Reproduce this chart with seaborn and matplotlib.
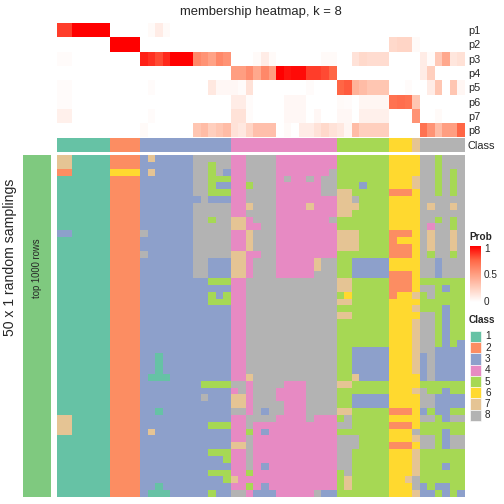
"""
Membership heatmap, k = 8: per-column class probabilities (top annotation)
and the class assigned to each column in 50 random samplings (body).
"""

import numpy as np
import pandas as pd
import matplotlib
matplotlib.use("Agg")
import matplotlib.pyplot as plt
import seaborn as sns
from matplotlib.colors import ListedColormap, LinearSegmentedColormap
from matplotlib.patches import Rectangle

sns.set_theme(style="white")
plt.rcParams["font.family"] = ["Liberation Sans", "DejaVu Sans"]

# ── Data ────────────────────────────────────────────────────────────────────

class_labels = ["1", "2", "3", "4", "5", "6", "7", "8"]
class_colors = ["#66C2A5", "#FC8D62", "#8DA0CB", "#E78AC3",
                "#A6D854", "#FFD92F", "#E5C494", "#B3B3B3"]
prob_rows = ["p1", "p2", "p3", "p4", "p5", "p6", "p7", "p8"]

column_class = [1] * 7 + [2] * 4 + [3] * 12 + [4] * 14 + [5] * 7 + [6] * 3 + [7] + [8] * 6

p1 = [0.85, 0.85, 1, 1, 1, 1, 1, 0, 0, 0, 0, 0, 0.03, 0.1, 0.03, 0, 0, 0,
      0, 0, 0, 0, 0, 0, 0, 0, 0, 0, 0, 0, 0, 0, 0, 0, 0, 0, 0,
      0, 0, 0, 0, 0, 0, 0, 0, 0, 0, 0, 0, 0, 0, 0, 0, 0]
p2 = [0, 0, 0, 0, 0, 0, 0, 1, 1, 1, 1, 0, 0, 0, 0, 0, 0, 0,
      0, 0, 0, 0, 0, 0, 0, 0, 0, 0, 0, 0, 0, 0, 0, 0, 0, 0, 0,
      0, 0, 0, 0, 0, 0, 0, 0.2, 0.22, 0.22, 0.03, 0, 0, 0, 0, 0, 0]
p3 = [0.02, 0.02, 0, 0, 0, 0, 0, 0, 0, 0, 0, 0.92, 0.88, 0.82, 0.9, 1, 1, 1,
      0.6, 0.55, 0.48, 0.6, 0.55, 0, 0, 0, 0.03, 0.1, 0.03, 0, 0, 0, 0, 0, 0, 0.03, 0.03,
      0, 0, 0.15, 0.2, 0.18, 0.18, 0.18, 0, 0, 0, 0, 0.1, 0.02, 0.28, 0.45, 0.13, 0.16]
p4 = [0, 0, 0, 0, 0, 0, 0, 0, 0, 0, 0, 0, 0, 0, 0, 0, 0, 0,
      0, 0, 0, 0, 0, 0.5, 0.5, 0.58, 0.45, 0.6, 0.5, 1, 0.95, 0.97, 0.97, 0.85, 0.85, 0.82, 0.75,
      0, 0, 0, 0, 0, 0, 0, 0, 0, 0, 0, 0.1, 0.25, 0, 0, 0, 0]
p5 = [0.02, 0.02, 0, 0, 0, 0, 0, 0, 0, 0, 0, 0, 0.02, 0, 0, 0, 0, 0,
      0, 0, 0.12, 0.04, 0.04, 0.04, 0.02, 0.15, 0, 0, 0, 0, 0, 0, 0, 0.02, 0, 0, 0,
      0.75, 0.78, 0.4, 0.35, 0.3, 0.3, 0.3, 0, 0, 0.02, 0, 0, 0.1, 0.3, 0, 0.3, 0.05]
p6 = [0.02, 0.02, 0, 0, 0, 0, 0, 0, 0, 0, 0, 0, 0, 0, 0, 0, 0, 0,
      0, 0, 0, 0, 0, 0.1, 0.1, 0.02, 0, 0, 0, 0, 0.04, 0.04, 0.04, 0, 0, 0, 0,
      0.03, 0.02, 0, 0.05, 0.05, 0.05, 0.05, 0.7, 0.72, 0.7, 0.3, 0, 0, 0, 0, 0, 0]
p7 = [0.08, 0.08, 0, 0, 0, 0, 0, 0, 0, 0, 0, 0, 0.02, 0, 0, 0, 0, 0,
      0, 0, 0, 0, 0, 0.15, 0.15, 0.02, 0, 0, 0, 0, 0.04, 0.04, 0.04, 0, 0.04, 0, 0,
      0.04, 0.04, 0, 0.08, 0.08, 0.08, 0.08, 0, 0, 0, 0.55, 0, 0, 0.03, 0, 0, 0]
p8 = [0, 0, 0, 0, 0, 0, 0, 0, 0, 0, 0, 0.03, 0, 0, 0, 0, 0, 0,
      0.3, 0.35, 0.25, 0.3, 0.35, 0.15, 0.12, 0.22, 0.33, 0.33, 0.33, 0, 0.03, 0, 0.1, 0.1, 0.15, 0.2, 0.15,
      0.12, 0.05, 0.35, 0.25, 0.25, 0.25, 0.25, 0, 0, 0, 0, 0.7, 0.55, 0.35, 0.5, 0.5, 0.75]

# one string per sampling, one digit (class) per column; spaces only group columns
samplings = [
    "77 11111 2222 3733333 88888 44 8888 44444444 5555555 6666 885888",
    "77 11111 2222 3333333 88588 44 8888 44444444 5555555 6666 885888",
    "22 11111 6666 3733333 88583 44 8888 44444448 5555555 6666 885858",
    "11 11111 2222 3333333 88555 44 8888 48448488 5555555 6667 885858",
    "11 11111 2222 3333333 88533 44 5888 44444488 5553555 6667 885858",
    "11 11111 2222 3333333 88555 44 8888 44444488 7755555 2226 885858",
    "11 11111 2222 3333333 38333 44 8888 44444444 7785555 6666 888888",
    "11 11111 2222 3333333 88888 44 7888 44447444 7775555 6666 878878",
    "11 11111 2222 3333333 88888 44 8888 44444444 7755555 6666 888888",
    "11 11111 2222 3333333 88588 77 4888 44444448 5555555 6666 885858",
    "11 11111 2222 3333333 88888 77 4488 44444444 5555555 6666 848858",
    "33 11111 2222 8333333 88888 44 7888 44444444 7775555 2226 878878",
    "11 11111 2222 3333333 88888 44 7888 44444444 7775555 2666 878878",
    "11 11111 2222 3333333 88888 44 7888 44444444 7775555 2226 878878",
    "11 11111 2222 8333333 88888 77 4488 44444444 5555555 2226 858858",
    "11 11111 2222 3333333 88333 77 4888 44444788 5533333 6666 883888",
    "11 11111 2222 3333333 88333 77 4888 44444788 5533333 6666 883888",
    "11 11111 2222 3333333 88333 77 4888 44444888 5533333 2226 883888",
    "11 11111 2222 3333333 33555 44 8888 88888888 7755555 2226 555555",
    "11 11111 2222 3333333 33333 44 8888 88888888 7755555 2226 885355",
    "11 11111 2222 3333333 33535 44 8888 88888888 5655555 2667 585555",
    "11 11111 2222 3333333 33555 44 8888 88888888 7755555 6666 555555",
    "11 11111 2222 3333333 33333 44 8888 88888888 5555555 6667 555355",
    "11 11111 2222 3333333 33333 44 8888 88888888 7755555 6666 885355",
    "11 11111 2222 3333333 33333 44 8888 88888888 5555555 6667 885355",
    "11 11111 2222 3333333 33333 44 8888 88888888 5555555 6667 885355",
    "11 11111 2222 3333333 33333 44 8888 88888888 5555555 6667 885355",
    "11 11111 2222 3333333 33333 44 8888 88888888 5555555 6667 885353",
    "11 11111 2222 3333333 33333 44 8888 88888888 5533333 6667 883333",
    "11 11111 2222 3313333 33333 44 8888 88888888 5533333 6667 383333",
    "11 11111 2222 3313333 33333 44 8888 88888888 5533333 6667 383333",
    "11 11111 2222 3313333 33333 44 8888 88888888 5533333 6667 383333",
    "11 11111 2222 3111333 33333 44 7888 88888888 5573333 6666 383333",
    "11 11111 2222 3333333 35555 88 4888 84448888 7755555 6666 555555",
    "11 11111 2222 3333333 33333 48 4888 44448888 5555555 6667 855355",
    "11 11111 2222 3333333 38333 77 4888 44448888 5533333 6666 883333",
    "11 11111 2222 3333333 33333 77 4888 84448888 5533333 6666 883333",
    "11 11111 2222 3313333 33333 88 4838 84448888 7755555 2226 353355",
    "77 11111 2222 3333333 33333 44 8888 44448444 5855555 6666 885388",
    "77 11111 2222 3333333 33555 44 8444 44444444 8855555 2226 555555",
    "77 11111 2222 3733333 33333 44 5434 44444444 5555555 6668 555355",
    "11 11111 2222 3333333 33333 44 8444 44444444 8885555 6667 885388",
    "11 11111 2222 3333333 33333 77 8444 44444444 8885555 2226 885388",
    "11 11111 2222 3333333 33555 44 8444 44444444 8855555 6667 555555",
    "11 11111 2222 3333333 33335 44 8444 44444444 8855555 6667 555555",
    "11 11111 2222 3333333 33333 44 8434 44444444 8855555 6667 555355",
    "11 11111 2222 3333333 33555 44 5444 44444444 5855555 6667 555555",
    "11 11111 2222 3333333 33335 74 4444 44444444 5755555 6678 555555",
    "11 11111 2222 3313333 33333 44 5434 44444444 5755555 6668 353355",
    "11 11111 2222 3111333 33533 88 4333 44444833 5555555 6667 335353",
]

# ── Build tables ────────────────────────────────────────────────────────────

prob_df = pd.DataFrame([p1, p2, p3, p4, p5, p6, p7, p8], index=prob_rows)
class_df = pd.DataFrame([column_class], index=["Class"])
member = np.array([[int(c) for c in s.replace(" ", "")] for s in samplings])

class_cmap = ListedColormap(class_colors)
# white → red, stops taken along a LAB ramp
prob_cmap = LinearSegmentedColormap.from_list(
    "prob", [(0, "#FFFFFF"), (0.25, "#FFCFBE"), (0.5, "#FF9E81"),
             (0.75, "#FF6746"), (1, "#FF0000")])

W = H = 504


def box(x0, y0, x1, y1):
    """pixel box (top-left origin) -> figure fraction rect"""
    return [x0 / W, 1 - y1 / H, (x1 - x0) / W, (y1 - y0) / H]


def clean(ax):
    ax.set_xlabel(""); ax.set_ylabel("")
    for s in ax.spines.values():
        s.set_visible(False)


fig = plt.figure(figsize=(W / 72, H / 72), dpi=72)

ax_prob = fig.add_axes(box(57, 23, 465, 137.5))
sns.heatmap(prob_df, ax=ax_prob, cmap=prob_cmap, vmin=0, vmax=1, cbar=False,
            xticklabels=False, yticklabels=True)
ax_prob.yaxis.tick_right()
ax_prob.tick_params(axis="y", length=0, pad=3, labelsize=11, labelrotation=0)
clean(ax_prob)

ax_cls = fig.add_axes(box(57, 137.5, 465, 152))
sns.heatmap(class_df, ax=ax_cls, cmap=class_cmap, vmin=0.5, vmax=8.5, cbar=False,
            xticklabels=False, yticklabels=True)
ax_cls.yaxis.tick_right()
ax_cls.tick_params(axis="y", length=0, pad=3, labelsize=11, labelrotation=0)
clean(ax_cls)

ax_main = fig.add_axes(box(57, 155, 465, 497))
sns.heatmap(member, ax=ax_main, cmap=class_cmap, vmin=0.5, vmax=8.5, cbar=False,
            xticklabels=False, yticklabels=False)
clean(ax_main)

ax_bar = fig.add_axes(box(23, 155, 51, 497))
ax_bar.set_facecolor("#7FC97F")
ax_bar.set_xticks([]); ax_bar.set_yticks([])
clean(ax_bar)

ax_cb = fig.add_axes(box(470, 246, 481, 302))
ax_cb.imshow(np.linspace(1, 0, 200)[:, None], aspect="auto", cmap=prob_cmap,
             vmin=0, vmax=1, extent=[0, 1, 0, 1])
ax_cb.set_xticks([]); ax_cb.set_yticks([])
clean(ax_cb)

# overlay in pixel coordinates for titles and legends
ov = fig.add_axes([0, 0, 1, 1])
ov.set_xlim(0, W); ov.set_ylim(H, 0)
ov.axis("off"); ov.patch.set_alpha(0)

ov.text(261, 12, "membership heatmap, k = 8", ha="center", va="center", fontsize=13)
ov.text(10, 257, "50 x 1 random samplings", rotation=90, ha="center", va="center",
        fontsize=14)
ov.text(37, 268, "top 1000 rows", rotation=90, ha="center", va="center", fontsize=9.5)

ov.text(469, 237, "Prob", ha="left", va="center", fontsize=10, fontweight="bold")
for val, y in [("1", 249), ("0.5", 275), ("0", 302)]:
    ov.text(484, y, val, ha="left", va="center", fontsize=10)

ov.text(469, 320, "Class", ha="left", va="center", fontsize=10, fontweight="bold")
step = 11.29
for i, (lab, col) in enumerate(zip(class_labels, class_colors)):
    y0 = 330.7 + step * i
    ov.add_patch(Rectangle((470, y0), 11.3, step, facecolor=col, edgecolor="white",
                           linewidth=0.6))
    ov.text(485, y0 + step / 2, lab, ha="left", va="center", fontsize=10)

fig.savefig("out.png", dpi=72, facecolor="white")
